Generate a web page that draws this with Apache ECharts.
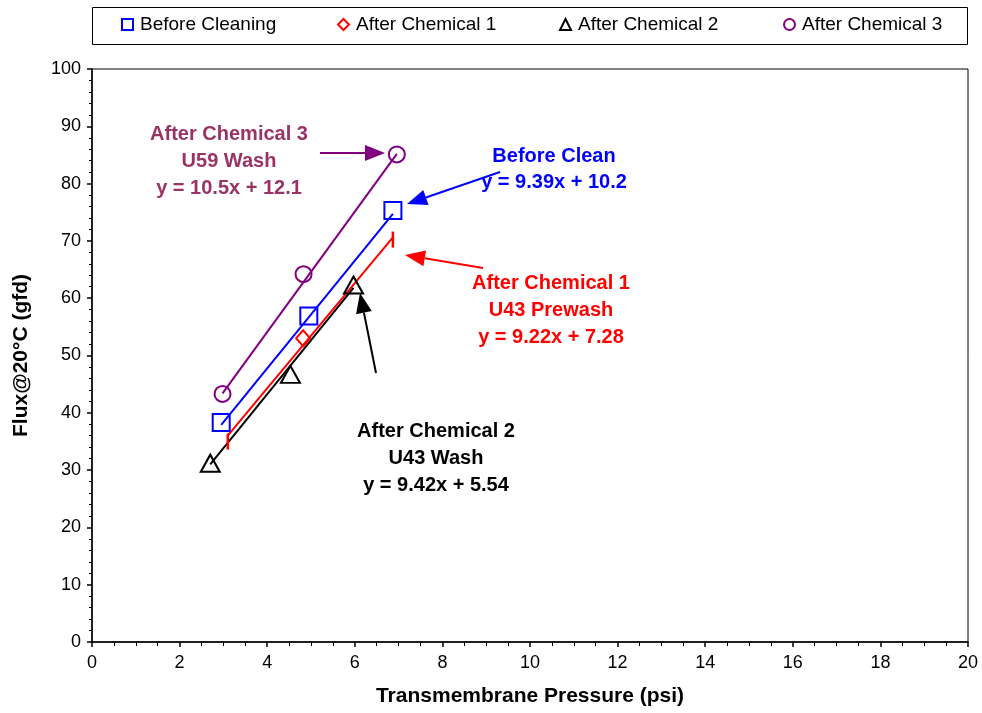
<!DOCTYPE html>
<html>
<head>
<meta charset="utf-8">
<script src="https://cdn.jsdelivr.net/npm/echarts@6/dist/echarts.min.js"></script>
<style>
html,body{margin:0;padding:0;background:#fff;}
#main{width:982px;height:713px;}
</style>
</head>
<body>
<div id="main"></div>
<script>
// data
var seriesNames = ['Before Cleaning', 'After Chemical 1', 'After Chemical 2', 'After Chemical 3'];
var beforeX = [2.95, 4.95, 6.87];
var beforeY = [38.3, 56.9, 75.3];
var chem1X = [3.1, 4.82, 6.87];
var chem1Y = [36.2, 53.0, 70.4];
var chem2X = [2.7, 4.53, 5.97];
var chem2Y = [31.2, 46.7, 62.3];
var chem3X = [2.98, 4.83, 6.96];
var chem3Y = [43.3, 64.2, 85.1];
// trendline end points
var beforeFit = [[2.95, 37.9], [6.87, 74.7]];
var chem1Fit = [[3.1, 36.0], [6.87, 70.6]];
var chem2Fit = [[2.7, 31.0], [5.97, 61.8]];
var chem3Fit = [[2.98, 43.4], [6.96, 85.2]];

var FONT = '"Liberation Sans", Arial, sans-serif';
var colors = ['#0000ff', '#ff0000', '#000000', '#800080'];

function pts(xs, ys) {
  return xs.map(function (x, i) { return [x, ys[i]]; });
}

function arrow(x1, y1, x2, y2, color) {
  var dx = x2 - x1, dy = y2 - y1;
  var len = Math.sqrt(dx * dx + dy * dy);
  var ux = dx / len, uy = dy / len;
  var hl = 20, hw = 8;
  var bx = x2 - ux * hl, by = y2 - uy * hl;
  return [
    {type: 'line', shape: {x1: x1, y1: y1, x2: bx, y2: by}, style: {stroke: color, lineWidth: 2}},
    {type: 'polygon', shape: {points: [[x2, y2], [bx - uy * hw, by + ux * hw], [bx + uy * hw, by - ux * hw]]}, style: {fill: color}}
  ];
}

function note(txt, x, y, color, lh) {
  return {
    type: 'text', x: x, y: y,
    style: {text: txt, fill: color, font: 'bold 20px ' + FONT, textAlign: 'center', textVerticalAlign: 'top', lineHeight: lh || 27}
  };
}

function fitLine(data, color) {
  return {
    type: 'line', data: data, symbol: 'none', silent: true, z: 2,
    lineStyle: {color: color, width: 2}
  };
}

function markers(name, data, symbol, size, color) {
  return {
    name: name, type: 'scatter', data: data, symbol: symbol, symbolSize: size, z: 3,
    itemStyle: {color: 'rgba(255,255,255,0)', borderColor: color, borderWidth: 2, opacity: 1}
  };
}

// red series: middle point is a diamond, ends show as short bars
var chem1Data = pts(chem1X, chem1Y).map(function (p, i) {
  if (i === 1) return p;
  return {value: p, symbol: 'rect', symbolSize: [2.5, 16],
    symbolOffset: i === 0 ? [0, 7] : [0, 1],
    itemStyle: {color: '#ff0000', borderWidth: 0}};
});

var legendLeft = [121, 337, 559, 783];
var legends = seriesNames.map(function (n, i) {
  return {
    data: [n], left: legendLeft[i], top: 15, padding: 0,
    itemWidth: 11, itemHeight: 11, itemGap: 0, selectedMode: false,
    textStyle: {fontFamily: FONT, fontSize: 19, color: '#000', padding: [0, 0, 0, 2]}
  };
});

var graphics = [
  {type: 'rect', shape: {x: 92.5, y: 7.5, width: 875, height: 37}, style: {fill: 'none', stroke: '#000', lineWidth: 1}, z: -1},
  note('After Chemical 3\nU59 Wash\ny = 10.5x + 12.1', 229, 121, '#993366'),
  note('Before Clean\ny = 9.39x + 10.2', 554, 143, '#0000ff', 26),
  note('After Chemical 1\nU43 Prewash\ny = 9.22x + 7.28', 551, 270, '#ff0000'),
  note('After Chemical 2\nU43 Wash\ny = 9.42x + 5.54', 436, 418, '#000000')
].concat(
  arrow(320, 153, 385, 153, '#800080'),
  arrow(500, 172, 407, 204, '#0000ff'),
  arrow(483, 268, 405, 255, '#ff0000'),
  arrow(376, 373, 360, 293, '#000000')
);

var myChart = echarts.init(document.getElementById('main'));
var option = {
  animation: false,
  backgroundColor: '#fff',
  legend: legends,
  grid: {left: 92, right: 14, top: 69, bottom: 71, show: true, borderColor: '#000', borderWidth: 1},
  xAxis: {
    type: 'value', min: 0, max: 20, interval: 2,
    name: 'Transmembrane Pressure (psi)', nameLocation: 'middle', nameGap: 44,
    nameTextStyle: {fontFamily: FONT, fontSize: 21, fontWeight: 'bold', color: '#000'},
    axisLine: {lineStyle: {color: '#000', width: 1.5}},
    axisTick: {length: 5, lineStyle: {color: '#000', width: 1.5}},
    minorTick: {show: true, splitNumber: 4, length: 4, lineStyle: {color: '#000', width: 1}},
    axisLabel: {fontFamily: FONT, fontSize: 18, color: '#000', margin: 12},
    splitLine: {show: false}
  },
  yAxis: {
    type: 'value', min: 0, max: 100, interval: 10,
    name: 'Flux@20°C (gfd)', nameLocation: 'middle', nameGap: 60,
    nameTextStyle: {fontFamily: FONT, fontSize: 21, fontWeight: 'bold', color: '#000'},
    axisLine: {lineStyle: {color: '#000', width: 1.5}},
    axisTick: {length: 5, lineStyle: {color: '#000', width: 1.5}},
    minorTick: {show: true, splitNumber: 5, length: 3, lineStyle: {color: '#000', width: 1}},
    axisLabel: {fontFamily: FONT, fontSize: 18, color: '#000', margin: 11},
    splitLine: {show: false}
  },
  series: [
    fitLine(beforeFit, colors[0]),
    fitLine(chem1Fit, colors[1]),
    fitLine(chem2Fit, colors[2]),
    fitLine(chem3Fit, colors[3]),
    markers(seriesNames[0], pts(beforeX, beforeY), 'rect', 17, colors[0]),
    markers(seriesNames[1], chem1Data, 'diamond', [14, 16], colors[1]),
    markers(seriesNames[2], pts(chem2X, chem2Y), 'triangle', [19, 17], colors[2]),
    markers(seriesNames[3], pts(chem3X, chem3Y), 'circle', 16, colors[3])
  ],
  graphic: graphics
};
myChart.setOption(option);
</script>
</body>
</html>
